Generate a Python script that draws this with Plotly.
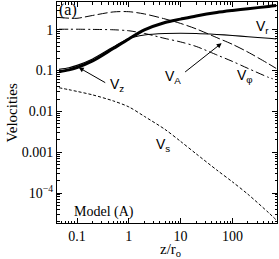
import math
import plotly.graph_objects as go

# z / r_o sample points
z = [0.045, 0.07, 0.1, 0.2, 0.5, 1, 2, 5, 10, 20, 50, 100, 200, 500, 700]
v_z = [0.094, 0.104, 0.119, 0.172, 0.348, 0.595, 0.99, 1.51, 1.82, 2.18, 2.65, 2.97, 3.29, 3.72, 3.94]
v_r = [0.107, 0.117, 0.134, 0.193, 0.379, 0.612, 0.746, 0.811, 0.82, 0.81, 0.767, 0.725, 0.674, 0.619, 0.595]
v_A = [2.0, 1.92, 1.91, 2.24, 2.73, 2.77, 2.44, 1.84, 1.43, 1.05, 0.641, 0.44, 0.283, 0.146, 0.113]
z_phi = [0.045, 0.07, 0.1, 0.2, 0.5, 1, 2, 5, 10, 20, 50, 100, 200, 500, 600]
v_phi = [1.03, 1.03, 1.03, 1.02, 1.0, 0.945, 0.812, 0.612, 0.503, 0.39, 0.242, 0.168, 0.113, 0.068, 0.063]
v_s = [0.038, 0.034, 0.0309, 0.0254, 0.0181, 0.0129, 0.00755, 0.00362, 0.00184, 0.000912, 0.000366, 0.000188, 9.3e-5, 3.3e-5, 2.2e-5]

x_ticks = [0.1, 1, 10, 100]
x_tick_text = ["0.1", "1", "10", "100"]
y_ticks = [1e-4, 1e-3, 1e-2, 0.1, 1]
y_tick_text = ["10<sup>\u22124</sup>", "0.001", "0.01", "0.1", "1"]

SERIF = "Liberation Serif"
SANS = "Liberation Sans"

fig = go.Figure()
def curve(x, y, width, dash=None):
    fig.add_trace(go.Scatter(x=x, y=y, mode="lines", hoverinfo="skip",
                             line=dict(color="black", width=width, dash=dash,
                                       shape="spline", smoothing=0.8)))

curve(z, v_A, 1, "10px,3px")
curve(z_phi, v_phi, 1, "9px,3px,2px,3px")
curve(z, v_r, 1.1)
curve(z, v_z, 3)
curve(z, v_s, 1, "3px,2px")

L = math.log10

def lab(text, x, y, size=14, font=SANS):
    fig.add_annotation(x=L(x), y=L(y), xref="x", yref="y", text=text,
                       showarrow=False, font=dict(family=font, size=size, color="black"),
                       xanchor="center", yanchor="middle")

lab("V<sub>r</sub>", 385, 1.14)
lab("V<sub>A</sub>", 7.05, 0.068)
lab("V<sub>\u03c6</sub>", 173, 0.072)
lab("V<sub>z</sub>", 0.586, 0.0433)
lab("V<sub>s</sub>", 4.52, 0.00148)
lab("Model (A)", 0.33, 3.37e-5, size=14, font=SERIF)
lab("(a)", 0.066, 2.97, size=16, font=SERIF)

# arrows
fig.add_annotation(x=L(0.108), y=L(0.119), xref="x", yref="y", ax=28, ay=16,
                   axref="pixel", ayref="pixel", text="", showarrow=True,
                   arrowhead=2, arrowsize=1, arrowwidth=1, arrowcolor="black")
fig.add_annotation(x=L(62), y=L(0.47), xref="x", yref="y", ax=-38, ay=30,
                   axref="pixel", ayref="pixel", text="", showarrow=True,
                   arrowhead=2, arrowsize=1, arrowwidth=1, arrowcolor="black")

# axis titles
fig.add_annotation(x=-0.205, y=0.5, xref="paper", yref="paper", text="Velocities",
                   showarrow=False, textangle=-90,
                   font=dict(family=SERIF, size=15, color="black"),
                   xanchor="center", yanchor="middle")
fig.add_annotation(x=0.518, y=-0.072, xref="paper", yref="paper", text="z/r<sub>o</sub>",
                   showarrow=False, font=dict(family=SERIF, size=15, color="black"),
                   xanchor="center", yanchor="top")

axis_common = dict(showline=True, linecolor="black", linewidth=1, mirror="allticks",
                   ticks="inside", ticklen=5, tickcolor="black", tickwidth=1,
                   showgrid=False, zeroline=False, fixedrange=True,
                   tickfont=dict(family=SERIF, size=14, color="black"),
                   minor=dict(ticks="inside", ticklen=2.5, tickcolor="black",
                              tickwidth=1, dtick="D1", showgrid=False))

fig.update_xaxes(type="log", range=[-1.386, 2.861], tickvals=x_ticks,
                 ticktext=x_tick_text, **axis_common)
fig.update_yaxes(type="log", range=[-4.734, 0.68], tickvals=y_ticks,
                 ticktext=y_tick_text, **axis_common)

fig.update_layout(width=279, height=259, margin=dict(l=57, r=2, t=2, b=36),
                  paper_bgcolor="white", plot_bgcolor="white", showlegend=False,
                  hovermode=False)

fig.write_html("out.html", config={"displayModeBar": False, "staticPlot": True},
               post_script="document.body.style.margin='0';document.body.style.overflow='hidden';")
